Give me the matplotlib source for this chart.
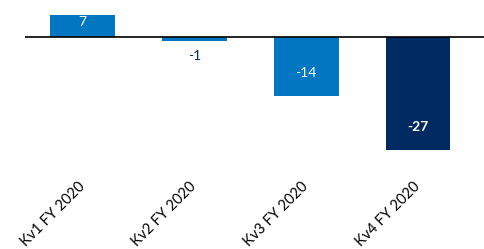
import matplotlib
matplotlib.use("Agg")
import matplotlib.pyplot as plt

# data
quarters = ["Kv1 FY 2020", "Kv2 FY 2020", "Kv3 FY 2020", "Kv4 FY 2020"]
values   = [7, -1, -14, -27]
colors   = ["#0077C0", "#0077C0", "#0077C0", "#002B62"]

plt.rcParams["font.family"] = ["Lato", "DejaVu Sans"]

W, H = 485, 249
fig = plt.figure(figsize=(W / 100, H / 100), dpi=100)

# axes in pixel coords: left 25, right 485, top 15, bottom 155
left, right, top, bottom = 25, 485, 15, 155
ax = fig.add_axes([left / W, 1 - bottom / H, (right - left) / W, (bottom - top) / H])

x = list(range(len(values)))
ax.bar(x, values, width=0.58, color=colors, zorder=2)
ax.axhline(0, color="black", lw=1.2, zorder=3)

zero_px = 37
scale = 4.19  # px per unit
ax.set_ylim(-(bottom - zero_px) / scale, (zero_px - top) / scale)
ax.set_xlim(-0.515, 3.6)

# value labels
for xi, v, c in zip(x, values, colors):
    if v > 0:
        ax.text(xi, v - 3.4, str(v), ha="center", va="center", color="white", fontsize=10)
    elif v > -3:
        ax.text(xi, v - 3.5, str(v), ha="center", va="center", color="#002B62", fontsize=10)
    else:
        bold = "bold" if c == "#002B62" else "normal"
        ax.text(xi, v + 5.5, str(v), ha="center", va="center", color="white",
                fontsize=10, fontweight=bold)

ax.set_xticks(x)
ax.set_xticklabels(quarters, rotation=45, ha="right", va="center",
                   rotation_mode="anchor", fontsize=10.5)
ax.tick_params(axis="x", length=0, pad=21)
ax.set_yticks([])
for s in ax.spines.values():
    s.set_visible(False)

fig.savefig("out.png", dpi=100)
